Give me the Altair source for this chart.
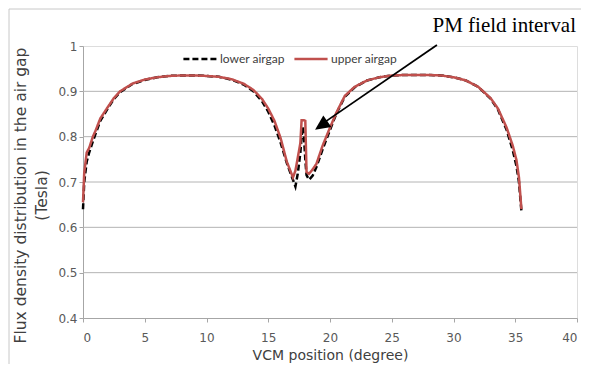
import altair as alt
import pandas as pd

# ---- data ----
position = [0, 0.1, 0.3, 0.5, 0.8, 1.0, 1.4, 2.0, 2.5, 3.0, 4.0, 5.0, 6.0, 7.0, 8.0, 9.0,
            10.0, 11.0, 12.0, 13.0, 13.8, 14.5, 15.0, 15.5, 16.0, 16.5, 17.0, 17.2, 17.4,
            17.6, 17.7, 17.8, 17.9, 18.0, 18.1, 18.3, 18.6, 18.9, 19.4, 20.0, 20.5, 21.2,
            22.0, 23.0, 24.0, 25.0, 26.0, 27.0, 28.0, 29.0, 30.0, 31.0, 32.0, 33.0, 33.6,
            34.3, 34.8, 35.1, 35.3, 35.5]
upper = [0.655, 0.72, 0.765, 0.775, 0.80, 0.812, 0.84, 0.865, 0.885, 0.90, 0.917, 0.926,
         0.931, 0.934, 0.935, 0.935, 0.934, 0.932, 0.927, 0.917, 0.903, 0.883, 0.862, 0.835,
         0.797, 0.745, 0.710, 0.725, 0.755, 0.786, 0.836, 0.836, 0.836, 0.835, 0.722, 0.718,
         0.728, 0.74, 0.78, 0.82, 0.852, 0.89, 0.91, 0.924, 0.931, 0.935, 0.936, 0.936,
         0.936, 0.935, 0.931, 0.924, 0.91, 0.885, 0.862, 0.82, 0.78, 0.748, 0.71, 0.64]
lower = [0.64, 0.70, 0.745, 0.765, 0.79, 0.805, 0.835, 0.862, 0.883, 0.898, 0.916, 0.925,
         0.931, 0.934, 0.935, 0.935, 0.934, 0.932, 0.926, 0.915, 0.90, 0.878, 0.855, 0.825,
         0.787, 0.742, 0.705, 0.69, 0.72, 0.765, 0.80, 0.822, 0.795, 0.75, 0.715, 0.705,
         0.714, 0.733, 0.772, 0.815, 0.85, 0.888, 0.909, 0.924, 0.931, 0.935, 0.936, 0.936,
         0.936, 0.935, 0.931, 0.924, 0.91, 0.884, 0.86, 0.815, 0.77, 0.735, 0.70, 0.635]
series_names = ["lower airgap", "upper airgap"]
x_ticks = [0, 5, 10, 15, 20, 25, 30, 35, 40]
y_ticks = [0.4, 0.5, 0.6, 0.7, 0.8, 0.9, 1.0]
grid_values = [0.5, 0.6, 0.7, 0.8, 0.9]
annotation_text = ["PM field interval"]
annotation_pos = [28.3, 1.031]
arrow_tail = [28.66, 1.002]
arrow_line_end = [19.25, 0.826]
arrow_tip = [18.79, 0.815]

df = pd.DataFrame({
    "pos": position * 2,
    "flux": lower + upper,
    "series": [series_names[0]] * len(position) + [series_names[1]] * len(position),
})

xscale = alt.Scale(domain=[0, 40], nice=False, zero=False)
yscale = alt.Scale(domain=[0.4, 1.0], nice=False, zero=False)

xaxis = alt.Axis(values=x_ticks, title="VCM position (degree)", grid=False,
                 domainColor="#a6a6a6", tickColor="#a6a6a6", tickSize=4,
                 labelPadding=10, labelFont="DejaVu Sans", labelFontSize=12,
                 labelColor="#595959", titleFont="DejaVu Sans", titleFontSize=14,
                 titleFontWeight="normal", titleColor="#404040", titlePadding=5)
yaxis = alt.Axis(values=y_ticks, format=".1~f",
                 title=["Flux density distribution in the air gap", "(Tesla)"],
                 grid=False, domainColor="#a6a6a6", tickColor="#a6a6a6",
                 tickSize=4, labelPadding=2, labelFont="DejaVu Sans",
                 labelFontSize=12, labelColor="#595959", titleFont="DejaVu Sans",
                 titleFontSize=15.5, titleFontWeight="normal", titleColor="#404040",
                 titleX=-63, titleY=149, titleAlign="center",
                 titleBaseline="middle", titleAngle=-90, titleLineHeight=21)

legend_spec = dict(title=None, orient="none", legendX=99, legendY=-5,
                   direction="horizontal", symbolType="stroke", symbolSize=1100,
                   symbolStrokeWidth=2.5, labelFont="Lato", labelFontSize=12,
                   labelColor="#404040", columnPadding=4, labelOffset=2, padding=0)

grid = alt.Chart(pd.DataFrame({"g": grid_values})).mark_rule(
    color="#b4b4b4", strokeWidth=1
).encode(y=alt.Y("g:Q", scale=yscale, axis=yaxis))

lines = alt.Chart(df).mark_line(strokeWidth=2.5).encode(
    x=alt.X("pos:Q", scale=xscale, axis=xaxis),
    y=alt.Y("flux:Q", scale=yscale, axis=yaxis),
    color=alt.Color("series:N",
                    scale=alt.Scale(domain=series_names, range=["#000000", "#c0504d"]),
                    legend=alt.Legend(**legend_spec)),
    strokeDash=alt.StrokeDash("series:N",
                              scale=alt.Scale(domain=series_names, range=[[6, 3], [1, 0]]),
                              legend=alt.Legend(**legend_spec)),
    order=alt.Order("pos:Q"),
)

arrow_df = pd.DataFrame({"x": [arrow_tail[0]], "y": [arrow_tail[1]],
                         "x2": [arrow_line_end[0]], "y2": [arrow_line_end[1]]})
arrow_line = alt.Chart(arrow_df).mark_rule(color="black", strokeWidth=1.8).encode(
    x=alt.X("x:Q", scale=xscale), y=alt.Y("y:Q", scale=yscale), x2="x2:Q", y2="y2:Q")

head_df = pd.DataFrame({"x": [arrow_tip[0]], "y": [arrow_tip[1]]})
arrow_head = alt.Chart(head_df).mark_point(
    shape="M0,0 L-0.47,1 L0.47,1 Z", size=900, filled=True, color="black",
    opacity=1, angle=235, strokeWidth=0
).encode(x=alt.X("x:Q", scale=xscale), y=alt.Y("y:Q", scale=yscale))

ann_df = pd.DataFrame({"x": [annotation_pos[0]], "y": [annotation_pos[1]],
                       "t": annotation_text})
annotation = alt.Chart(ann_df).mark_text(
    font="Liberation Serif", fontSize=21, align="left", baseline="alphabetic", color="black"
).encode(x=alt.X("x:Q", scale=xscale), y=alt.Y("y:Q", scale=yscale), text="t:N")

frame_top = alt.Chart(head_df).mark_rule(color="#c8c8c8", strokeWidth=1).encode(
    x=alt.value(-74), x2=alt.value(600), y=alt.value(-37))
frame_left = alt.Chart(head_df).mark_rule(color="#c8c8c8", strokeWidth=1).encode(
    x=alt.value(-74), y=alt.value(-37), y2=alt.value(400))

chart = alt.layer(grid, lines, arrow_line, arrow_head, annotation, frame_top, frame_left).properties(
    width=494, height=272,
    autosize=alt.AutoSizeParams(type="none"),
    padding={"left": 75, "top": 38, "right": 4, "bottom": 46},
).configure_view(stroke=None).configure(background="white")

chart.save("out.html", embed_options={"renderer": "svg", "actions": False})
